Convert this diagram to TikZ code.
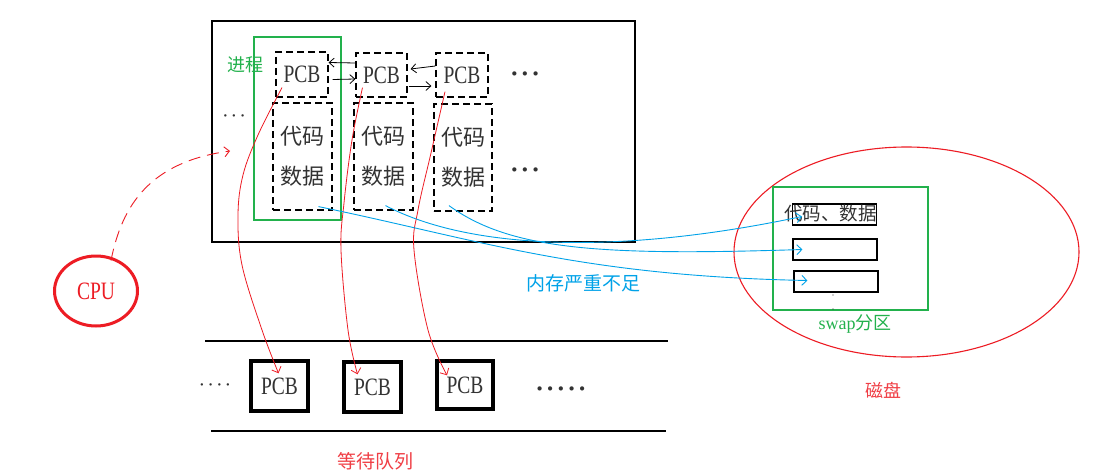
\documentclass[tikz,border=0pt]{standalone}
\usepackage{fontspec}
\setmainfont{Liberation Serif}
\newfontfamily\cjk{Noto Sans CJK SC}
\newfontfamily\narrow[FakeStretch=0.78]{Liberation Serif}
\usetikzlibrary{arrows.meta,calc,shapes.geometric}
\definecolor{pred}{HTML}{ED1C24}
\definecolor{pgreen}{HTML}{22B14C}
\definecolor{pblue}{HTML}{00A2E8}
\definecolor{ptext}{HTML}{333333}
\tikzset{
  dbox/.style={draw, dashed, dash pattern=on 7pt off 4pt, line width=1.2pt, inner sep=0pt, text=ptext},
  qbox/.style={draw, line width=3.5pt, inner sep=0pt, text=ptext, minimum width=57pt, minimum height=50pt},
  sbox/.style={draw, line width=1.2pt, inner sep=0pt, minimum width=84pt, minimum height=21pt},
  pcbtxt/.style={font=\narrow\fontsize{25}{25}\selectfont},
  cjktxt/.style={font=\cjk\fontsize{22}{40}\selectfont, align=center},
  lbl/.style={font=\cjk\fontsize{18}{18}\selectfont, inner sep=0pt},
  dots/.style={font=\fontsize{26}{26}\selectfont\bfseries, text=ptext, inner sep=0pt},
  blk/.style={-{Straight Barb[length=5pt,width=9pt]}, line width=0.8pt},
  redar/.style={pred, line width=0.8pt, -{Straight Barb[length=5pt,width=10pt]}},
  bluear/.style={pblue, line width=0.9pt, -{Straight Barb[length=5pt,width=10pt]}},
}
\begin{document}
\begin{tikzpicture}[x=1pt,y=-1pt]
\useasboundingbox[fill=white] (0,0) rectangle (1094,476);

% memory box
\node[draw, line width=1.3pt, minimum width=423pt, minimum height=221pt, inner sep=0pt] (mem) at (423.5,131.5) {};
% process green box
\node[draw=pgreen, line width=1.1pt, minimum width=87pt, minimum height=183pt, inner sep=0pt] (proc) at (297.5,128.5) {};
\node[lbl, text=pgreen] (jc) at (245,65) {进程};

% PCBs
\node[dbox, pcbtxt, minimum width=52pt, minimum height=45pt] (p1) at (302,74.5) {PCB};
\node[dbox, pcbtxt, minimum width=51pt, minimum height=44pt] (p2) at (381.5,75) {PCB};
\node[dbox, pcbtxt, minimum width=52pt, minimum height=44pt] (p3) at (462,75) {PCB};
\node[dots] (d1) at (525,77) {·\hspace{2pt}·\hspace{2pt}·};

% code/data
\node[dbox, cjktxt, minimum width=59pt, minimum height=107pt] (c1) at (302.5,156.5) {代码\\数据};
\node[dbox, cjktxt, minimum width=59pt, minimum height=107pt] (c2) at (383.5,156.5) {代码\\数据};
\node[dbox, cjktxt, minimum width=58pt, minimum height=107pt] (c3) at (463,157.5) {代码\\数据};
\node[dots] (d2) at (525,173) {·\hspace{2pt}·\hspace{2pt}·};
\node[dots, font=\fontsize{20}{20}\selectfont] (d3) at (234,119) {·\hspace{2pt}·\hspace{2pt}·};

% PCB links
\draw[blk] ($(p2.west)+(0,-12)$) -- ($(p1.east)+(0,-12)$);
\draw[blk] ($(p1.east)+(4,5)$) -- ($(p2.west)+(0,4)$);
\draw[blk] ($(p3.west)+(0,-9)$) -- ($(p2.east)+(3,-6)$);
\draw[blk] ($(p2.east)+(1,11)$) -- ($(p3.west)+(-4,11)$);

% waiting queue
\coordinate (wl1) at (205,341); \coordinate (wr1) at (668,341);
\coordinate (wl2) at (211,431); \coordinate (wr2) at (666,431);
\draw[line width=2.8pt] (wl1) -- (wr1);
\draw[line width=2.8pt] (wl2) -- (wr2);
\node[qbox, pcbtxt] (q1) at (279.5,386) {PCB};
\node[qbox, pcbtxt] (q2) at (372.5,387) {PCB};
\node[qbox, pcbtxt, minimum width=56pt, minimum height=48pt] (q3) at (465,385) {PCB};
\node[dots, font=\fontsize{20}{20}\selectfont] (d4) at (215,388) {·\hspace{2pt}·\hspace{2pt}·\hspace{2pt}·};
\node[dots] (d5) at (561,392) {·\hspace{2pt}·\hspace{2pt}·\hspace{2pt}·\hspace{2pt}·};
\node[lbl, text=pred!85, font=\cjk\fontsize{19}{19}\selectfont] (wq) at (375,461) {等待队列};

% CPU
\node[draw=pred, line width=3pt, ellipse, minimum width=83pt, minimum height=70pt, inner sep=0pt,
      text=pred, pcbtxt] (cpu) at (96,291) {CPU};
\coordinate (cpuin) at (230,151);
\draw[pred, line width=0.9pt, dash pattern=on 12pt off 7pt, -{Straight Barb[length=5pt,width=10pt]}]
  ($(cpu.north)+(15,6)$) .. controls (122,205) and (150,162) .. (cpuin);

% PCB -> queue (red)
\coordinate (a1) at ($(p1.south)+(-20,-10)$);
\coordinate (a2) at ($(p2.south)+(-19,-10)$);
\coordinate (a3) at ($(p3.south)+(-17,-6)$);
\coordinate (e1) at ($(q1.north)+(-1,14)$);
\coordinate (e2) at ($(q2.north)+(-15,14)$);
\coordinate (e3) at ($(q3.north)+(-18,16)$);
\draw[redar] plot[smooth, tension=0.6] coordinates {(a1) (258,135) (243,175) (238,215) (242,265) (262,330) (e1)};
\draw[redar] plot[smooth, tension=0.6] coordinates {(a2) (352,140) (344,203) (341,250) (348,330) (e2)};
\draw[redar] plot[smooth, tension=0.6] coordinates {(a3) (431,153) (418,210) (414,250) (428,330) (e3)};

% disk
\node[draw=pred, line width=1.1pt, ellipse, minimum width=345pt, minimum height=210pt, inner sep=0pt] (disk) at (906.5,252) {};
\node[draw=pgreen, line width=1.1pt, minimum width=155pt, minimum height=123pt, inner sep=0pt] (swap) at (850.5,248.5) {};
\node[sbox] (s1) at (834.5,214.5) {};
\node[lbl, text=ptext, font=\cjk\fontsize{18.5}{18.5}\selectfont] (sl1) at (830.5,213) {代码、数据};
\node[sbox] (s2) at (835,249.5) {};
\node[sbox] (s3) at (836,281.5) {};
\fill[ptext] (833,295) circle (0.7pt) (833,309) circle (0.7pt);
\node[lbl, text=pgreen] (sw) at (855,324) {{\fontsize{18}{18}\selectfont\rmfamily swap}分区};
\node[lbl, text=pred!85] (cp) at (883,390) {磁盘};

% blue arrows
\coordinate (b1) at ($(c1.south)+(16,-4)$);
\coordinate (b2) at ($(c2.south)+(2,-5)$);
\coordinate (b3) at ($(c3.south)+(-14,-6)$);
\draw[bluear] (b1) .. controls (480,240) and (580,276) .. ($(s3.west)+(14,-1)$);
\draw[bluear] (b2) .. controls (470,250) and (620,255) .. ($(s1.west)+(10,2)$);
\draw[bluear] (b3) .. controls (510,250) and (600,256) .. ($(s2.west)+(10,0)$);
\node[lbl, text=pblue, font=\cjk\fontsize{19}{19}\selectfont] (nc) at (583,283) {内存严重不足};
\end{tikzpicture}
\end{document}
